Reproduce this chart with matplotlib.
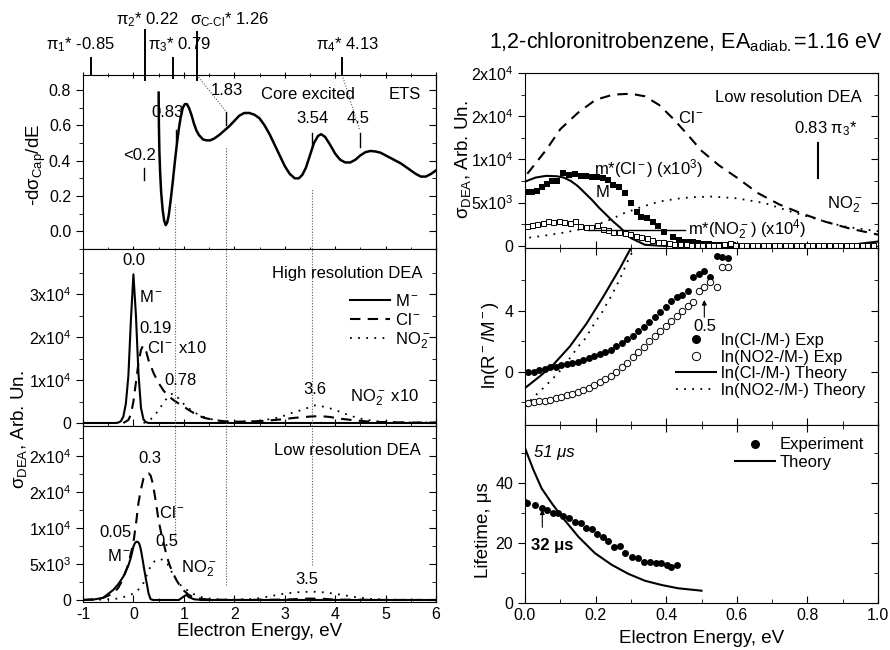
import numpy as np
import matplotlib.pyplot as plt
from matplotlib.ticker import FixedLocator, MultipleLocator, FixedFormatter, NullFormatter

plt.rcParams['font.family'] = 'Liberation Sans'
plt.rcParams['mathtext.fontset'] = 'custom'
plt.rcParams['mathtext.rm'] = 'Liberation Sans'
plt.rcParams['mathtext.it'] = 'Liberation Sans:italic'
plt.rcParams['mathtext.bf'] = 'Liberation Sans:bold'
plt.rcParams['axes.unicode_minus'] = False
plt.rcParams['font.size'] = 12
plt.rcParams['xtick.labelsize'] = 11.5
plt.rcParams['ytick.labelsize'] = 11.5

# ETS derivative spectrum
ets_e = [0.50, 0.505, 0.515, 0.53, 0.55, 0.58, 0.61, 0.64, 0.67, 0.70, 0.74, 0.78, 0.82, 0.86, 0.90,
         0.94, 0.98, 1.02, 1.06, 1.10, 1.15, 1.20, 1.25, 1.30, 1.38, 1.45, 1.52, 1.60, 1.70, 1.80,
         1.90, 2.00, 2.10, 2.20, 2.30, 2.40, 2.50, 2.60, 2.70, 2.80, 2.90, 3.00, 3.10, 3.20, 3.28,
         3.35, 3.42, 3.50, 3.58, 3.66, 3.72, 3.80, 3.90, 4.00, 4.10, 4.20, 4.30, 4.40, 4.50, 4.60,
         4.70, 4.80, 4.90, 5.00, 5.10, 5.20, 5.30, 5.40, 5.50, 5.60, 5.70, 5.80, 5.90, 6.00]
ets_y = [0.785, 0.60, 0.45, 0.33, 0.22, 0.12, 0.06, 0.035, 0.05, 0.09, 0.18, 0.28, 0.39, 0.49, 0.58,
         0.65, 0.70, 0.72, 0.72, 0.70, 0.66, 0.61, 0.57, 0.545, 0.52, 0.515, 0.515, 0.525, 0.545, 0.57,
         0.595, 0.625, 0.655, 0.67, 0.67, 0.66, 0.64, 0.60, 0.55, 0.49, 0.43, 0.37, 0.325, 0.30, 0.30,
         0.32, 0.36, 0.43, 0.50, 0.54, 0.55, 0.535, 0.49, 0.44, 0.405, 0.39, 0.39, 0.405, 0.43, 0.448,
         0.455, 0.452, 0.445, 0.43, 0.415, 0.40, 0.385, 0.365, 0.345, 0.325, 0.31, 0.31, 0.325, 0.345]

# high resolution DEA
hr_m_e = [-1.0, -0.35, -0.3, -0.25, -0.2, -0.15, -0.1, -0.05, 0.0, 0.05, 0.1, 0.15, 0.2, 0.25, 0.3, 6.0]
hr_m_y = [0, 0, 100, 400, 1500, 4500, 11000, 24000, 34600, 25000, 11500, 3500, 800, 200, 0, 0]
hr_cl_e = [-0.2, -0.1, -0.05, 0.0, 0.05, 0.1, 0.15, 0.19, 0.25, 0.3, 0.4, 0.5, 0.6, 0.7, 0.8, 0.9, 1.0,
           1.1, 1.2, 1.3, 1.4, 1.6, 1.8, 2.0, 2.3, 2.6, 2.9, 3.2, 3.5, 3.7, 3.9, 4.1, 4.4, 4.7, 5.0, 5.5, 6.0]
hr_cl_y = [0, 700, 2000, 5000, 9500, 14000, 17000, 18000, 16800, 14600, 11600, 9300, 7500, 6200, 5300,
           4500, 3800, 3000, 2300, 1700, 1200, 700, 400, 300, 350, 500, 800, 1200, 1500, 1600, 1400,
           1000, 600, 300, 200, 100, 100]
hr_no2_e = [0.2, 0.3, 0.4, 0.5, 0.6, 0.7, 0.78, 0.9, 1.0, 1.1, 1.2, 1.35, 1.5, 1.7, 2.0, 2.3, 2.6, 2.9,
            3.1, 3.3, 3.5, 3.6, 3.7, 3.9, 4.1, 4.3, 4.5, 4.8, 5.2, 5.6, 6.0]
hr_no2_y = [0, 400, 1500, 3000, 4800, 6300, 6900, 5700, 4400, 3400, 2500, 1600, 1000, 500, 300, 350,
            700, 1300, 2200, 2900, 3700, 4100, 4000, 3400, 2600, 1700, 1000, 400, 200, 100, 100]

# low resolution DEA
lr_m_e = [-1.0, -0.8, -0.6, -0.4, -0.3, -0.2, -0.1, -0.05, 0.0, 0.03, 0.06, 0.09, 0.11, 0.13, 0.15,
          0.17, 0.19, 0.21, 0.23, 0.25, 0.27, 0.30, 0.34, 0.39, 0.5, 0.9, 1.0, 1.05, 1.1, 1.2, 1.35, 1.5, 6.0]
lr_m_y = [0, 50, 300, 1400, 2200, 3250, 4800, 5900, 7430, 7900, 8100, 8050, 7900, 7500, 6900,
          6100, 5300, 4400, 3600, 2800, 2100, 900, 120, 0, 0, 0, 500, 700, 400, 100, 0, 0, 0]
lr_cl_e = [-1.0, -0.8, -0.6, -0.4, -0.3, -0.2, -0.1, 0.0, 0.06, 0.1, 0.15, 0.2, 0.25, 0.3, 0.34, 0.38,
           0.42, 0.46, 0.5, 0.55, 0.6, 0.66, 0.72, 0.78, 0.85, 0.92, 1.0, 1.1, 1.2, 1.35, 1.5, 2.0,
           3.0, 3.3, 3.5, 3.8, 4.0, 5.0, 6.0]
lr_cl_y = [0, 100, 300, 900, 1700, 3000, 5000, 8000, 11100, 13500, 15400, 16900, 17500, 17600, 17300,
           16300, 14700, 12900, 11000, 9300, 7900, 6100, 4800, 3800, 2800, 2000, 1300, 700, 350, 150,
           60, 0, 50, 150, 200, 150, 50, 0, 0]
lr_no2_e = [-1.0, -0.6, -0.3, -0.1, 0.0, 0.05, 0.1, 0.15, 0.19, 0.24, 0.28, 0.33, 0.38, 0.43, 0.47,
            0.53, 0.6, 0.68, 0.75, 0.83, 0.9, 1.0, 1.1, 1.2, 1.35, 1.5, 1.7, 2.0, 2.4, 2.7, 3.0, 3.3,
            3.55, 3.8, 4.1, 4.4, 4.7, 5.0, 6.0]
lr_no2_y = [0, 50, 200, 600, 890, 1150, 1460, 1850, 2230, 3000, 3770, 4500, 5120, 5450, 5620, 5700,
            5500, 4940, 4000, 3040, 2270, 1690, 1200, 800, 400, 200, 80, 50, 150, 500, 900, 1100,
            1160, 1050, 750, 400, 150, 50, 0]

# metastable decay signals (scaled)
mcl_e = [0.005, 0.019, 0.033, 0.047, 0.061, 0.076, 0.092, 0.109, 0.126, 0.142, 0.158, 0.173, 0.189,
         0.205, 0.22, 0.236, 0.25, 0.267, 0.283, 0.299, 0.316, 0.33, 0.346, 0.362, 0.378, 0.394, 0.42,
         0.435, 0.449, 0.463, 0.477, 0.491, 0.505, 0.52, 0.534, 0.548, 0.562, 0.577, 0.59]
mcl_y = [6270, 6270, 6390, 6770, 7160, 7540, 7510, 8470, 8200, 8310, 8080, 8080, 8000, 7930, 7810,
         7620, 7040, 6770, 6160, 4930, 3960, 3390, 3200, 2810, 2310, 1650, 1000, 620, 500, 390, 390,
         310, 230, 230, 150, 150, 120, 120, 120]
mno2_e = [0.005, 0.02, 0.035, 0.05, 0.066, 0.08, 0.096, 0.11, 0.127, 0.142, 0.157, 0.172, 0.188, 0.204,
          0.22, 0.235, 0.25, 0.266, 0.282, 0.298, 0.314, 0.33, 0.345, 0.36, 0.376, 0.392, 0.408, 0.423,
          0.439, 0.455, 0.47, 0.486, 0.502, 0.517, 0.533, 0.548, 0.564, 0.58, 0.595, 0.611, 0.627,
          0.642, 0.658, 0.674, 0.689, 0.705, 0.72, 0.736, 0.752, 0.767, 0.783, 0.799, 0.814, 0.83,
          0.845, 0.861, 0.877, 0.892, 0.908, 0.924, 0.939, 0.955, 0.97, 0.986]
mno2_y = [2310, 2420, 2540, 2690, 2880, 2810, 2920, 2810, 2690, 2920, 2300, 2200, 2200, 2420, 2000,
          1850, 1650, 1580, 1460, 1350, 1190, 1080, 890, 700, 500, 390, 310, 250, 200, 170, 150, 150,
          130, 120, 120, 130, 200, 300, 150, 120, 120, 110, 120, 120, 110, 120, 120, 110, 120, 120,
          110, 120, 120, 110, 120, 120, 110, 120, 120, 110, 120, 120, 110, 120]

# ln of branching ratios
ln_e = [0.009, 0.025, 0.040, 0.056, 0.071, 0.087, 0.103, 0.118, 0.134, 0.149, 0.165, 0.181, 0.196,
        0.212, 0.227, 0.243, 0.259, 0.274, 0.290, 0.305, 0.321, 0.337, 0.352, 0.368, 0.383, 0.399,
        0.415, 0.430, 0.446, 0.461, 0.477, 0.493, 0.508, 0.524, 0.543, 0.557, 0.574]
ln_cl = [0.0, 0.0, 0.11, 0.15, 0.33, 0.33, 0.42, 0.48, 0.55, 0.66, 0.77, 0.87, 1.03, 1.14, 1.29, 1.40,
         1.68, 1.90, 2.16, 2.34, 2.67, 2.95, 3.26, 3.61, 3.91, 4.26, 4.63, 4.90, 5.07, 5.30, 6.21, 6.39,
         6.60, 6.23, 7.59, 7.54, 7.48]
ln_no2 = [-2.05, -2.0, -1.95, -1.9, -1.85, -1.75, -1.65, -1.55, -1.45, -1.35, -1.2, -1.05, -0.9, -0.7,
          -0.5, -0.25, 0.0, 0.3, 0.6, 0.95, 1.3, 1.65, 2.0, 2.35, 2.7, 3.0, 3.35, 3.65, 4.0, 4.35, 4.6,
          5.3, 5.55, 5.9, 5.6, 6.9, 6.9]
lnth_e = [0.0, 0.042, 0.08, 0.127, 0.175, 0.222, 0.269, 0.297, 0.31]
lnth_cl = [-1.07, -0.3, 0.46, 1.66, 3.19, 4.94, 6.8, 8.0, 8.5]
lnth_no2_e = [0.0, 0.024, 0.047, 0.071, 0.094, 0.113, 0.132, 0.151, 0.17, 0.184, 0.2, 0.217, 0.231,
              0.245, 0.258, 0.269, 0.28, 0.29, 0.302, 0.31]
lnth_no2 = [-2.3, -1.68, -1.18, -0.63, -0.09, 0.46, 1.05, 1.66, 2.16, 2.69, 3.3, 3.85, 4.44, 5.0,
            5.6, 6.1, 6.69, 7.23, 7.78, 8.2]

# lifetimes
lt_e = [0.0, 0.005, 0.028, 0.047, 0.063, 0.078, 0.094, 0.109, 0.126, 0.142, 0.158, 0.173, 0.189,
        0.205, 0.222, 0.236, 0.253, 0.269, 0.283, 0.302, 0.319, 0.338, 0.354, 0.37, 0.385, 0.401,
        0.415, 0.43]
lt_exp = [33.8, 33.2, 32.7, 31.6, 31.0, 29.9, 29.9, 29.0, 28.2, 27.1, 26.8, 25.1, 24.6, 22.9, 22.1,
          20.7, 18.8, 19.0, 16.8, 15.2, 15.1, 13.7, 13.8, 13.4, 13.2, 12.7, 12.1, 12.7]
lt_th_e = [0.0, 0.024, 0.047, 0.076, 0.104, 0.151, 0.198, 0.246, 0.293, 0.34, 0.387, 0.434, 0.5]
lt_th = [51.6, 44.3, 38.2, 33.2, 28.8, 22.1, 16.6, 12.7, 9.7, 7.4, 6.0, 4.9, 4.1]

dash = (0, (5, 3.5))
dots = (0, (1, 3.5))
vdot = dict(color='0.35', lw=0.8, linestyle=(0, (1, 1.5)))
LBL = 13.5

fig = plt.figure(figsize=(8.9, 6.5), dpi=100)
W, H = 890.0, 650.0


def add_ax(x0, x1, y0, y1):
    return fig.add_axes([x0 / W, 1 - y1 / H, (x1 - x0) / W, (y1 - y0) / H])


def ticks(ax, major, minor, labels=None, xshow=False, xmaj=1, xmin=0.5):
    ax.yaxis.set_major_locator(FixedLocator(major))
    ax.yaxis.set_minor_locator(FixedLocator(minor))
    if labels is not None:
        ax.yaxis.set_major_formatter(FixedFormatter(labels))
    ax.xaxis.set_major_locator(MultipleLocator(xmaj))
    ax.xaxis.set_minor_locator(MultipleLocator(xmin))
    ax.tick_params(axis='y', which='both', direction='out', right=False)
    ax.tick_params(axis='y', which='major', length=5)
    ax.tick_params(axis='y', which='minor', length=3)
    ax.tick_params(axis='x', which='both', direction='in', top=False, labelbottom=xshow)
    ax.tick_params(axis='x', which='major', length=5)
    ax.tick_params(axis='x', which='minor', length=3)
    sec = ax.secondary_yaxis('right')
    sec.yaxis.set_major_locator(FixedLocator(major))
    sec.yaxis.set_minor_locator(FixedLocator(minor))
    sec.yaxis.set_major_formatter(NullFormatter())
    sec.tick_params(which='both', direction='in')
    sec.tick_params(which='major', length=5)
    sec.tick_params(which='minor', length=3)


# ---------------- left column ----------------
axA = add_ax(83, 436, 75, 249)
axB = add_ax(83, 436, 249, 426)
axC = add_ax(83, 436, 426, 602)

axA.plot(ets_e, ets_y, color='black', lw=1.8)
axA.set_xlim(-1, 6)
axA.set_ylim(-0.1, 0.885)
ticks(axA, [0, 0.2, 0.4, 0.6, 0.8], [-0.1, 0.1, 0.3, 0.5, 0.7], ['0.0', '0.2', '0.4', '0.6', '0.8'])
axA.tick_params(axis='x', which='both', top=True, labeltop=False)
axA.xaxis.set_tick_params(which='both', direction='inout')

# orbital markers above the frame
orb_e = [-0.85, 0.22, 0.79, 1.26, 4.13]
orb_top = [0.981, 1.14, 0.981, 1.13, 0.981]
orb_bot = [0.885, 0.857, 0.868, 0.857, 0.885]
for e, t, b in zip(orb_e, orb_top, orb_bot):
    axA.plot([e, e], [b, t], color='black', lw=1.4, clip_on=False)
axA.text(-1.06, 1.055, 'π$_1$* -0.85', ha='center', va='center')
axA.text(0.29, 1.197, 'π$_2$* 0.22', ha='center', va='center')
axA.text(0.92, 1.055, 'π$_3$* 0.79', ha='center', va='center')
axA.text(1.91, 1.197, 'σ$_{\\mathrm{C\u2011Cl}}$* 1.26', ha='center', va='center')
axA.text(4.25, 1.055, 'π$_4$* 4.13', ha='center', va='center')

axA.plot([1.26, 1.84], [0.885, 0.677], color='0.35', lw=0.8, linestyle=(0, (1, 1.5)), clip_on=False)
axA.plot([4.14, 4.49], [0.885, 0.57], color='0.35', lw=0.8, linestyle=(0, (1, 1.5)), clip_on=False)
for e, y0, y1 in [(0.204, 0.29, 0.361), (0.84, 0.507, 0.573), (1.84, 0.60, 0.677),
                  (3.545, 0.479, 0.554), (4.5, 0.48, 0.554)]:
    axA.plot([e, e], [y0, y1], color='black', lw=1.0)
axA.text(0.13, 0.431, '<0.2', ha='center', va='center')
axA.text(0.666, 0.675, '0.83', ha='center', va='center')
axA.text(1.855, 0.80, '1.83', ha='center', va='center')
axA.text(3.46, 0.772, 'Core excited', ha='center', va='center')
axA.text(5.385, 0.772, 'ETS', ha='center', va='center')
axA.text(3.54, 0.636, '3.54', ha='center', va='center')
axA.text(4.45, 0.64, '4.5', ha='center', va='center')
axA.plot([0.83, 0.83], [-0.1, 0.157], **vdot)
axA.plot([1.83, 1.83], [-0.1, 0.479], **vdot)
axA.plot([3.54, 3.54], [-0.1, 0.242], **vdot)

axB.plot(hr_m_e, hr_m_y, color='black', lw=1.5, label='M$^-$')
axB.plot(hr_cl_e, hr_cl_y, color='black', lw=1.5, linestyle=dash, label='Cl$^-$')
axB.plot(hr_no2_e, hr_no2_y, color='black', lw=1.3, linestyle=dots, label='NO$_2^-$')
axB.set_xlim(-1, 6)
axB.set_ylim(-700, 40500)
ticks(axB, [0, 10000, 20000, 30000], [5000, 15000, 25000, 35000],
      ['0', '1x10$^4$', '2x10$^4$', '3x10$^4$'])
for e in [0.83, 1.83, 3.54]:
    axB.axvline(e, **vdot)
axB.legend(loc='upper right', bbox_to_anchor=(0.985, 0.75), frameon=False, handlelength=2.4,
           handletextpad=0.3, labelspacing=0.15, borderpad=0, borderaxespad=0)
axB.text(0.01, 37900, '0.0', ha='center', va='center')
axB.text(0.35, 29300, 'M$^-$', ha='center', va='center')
axB.text(0.43, 22100, '0.19', ha='center', va='center')
axB.text(0.86, 17400, 'Cl$^-$ x10', ha='center', va='center')
axB.text(0.94, 10000, '0.78', ha='center', va='center')
axB.text(3.6, 7700, '3.6', ha='center', va='center')
axB.text(4.97, 5800, 'NO$_2^-$ x10', ha='center', va='center')
axB.text(4.25, 34900, 'High resolution DEA', ha='center', va='center')

axC.plot(lr_m_e, lr_m_y, color='black', lw=1.5)
axC.plot(lr_cl_e, lr_cl_y, color='black', lw=1.5, linestyle=dash)
axC.plot(lr_no2_e, lr_no2_y, color='black', lw=1.3, linestyle=dots)
axC.set_xlim(-1, 6)
axC.set_ylim(-280, 24170)
ticks(axC, [0, 5000, 10000, 15000, 20000], [2500, 7500, 12500, 17500, 22500],
      ['0', '5x10$^3$', '1x10$^4$', '2x10$^4$', '2x10$^4$'], xshow=True)
axC.plot([0.83, 0.83], [8500, 24170], **vdot)
axC.plot([1.83, 1.83], [2090, 24170], **vdot)
axC.plot([3.54, 3.54], [4880, 24170], **vdot)
axC.text(4.24, 20800, 'Low resolution DEA', ha='center', va='center')
axC.text(0.33, 19600, '0.3', ha='center', va='center')
axC.text(0.76, 12100, 'Cl$^-$', ha='center', va='center')
axC.text(-0.35, 9400, '0.05', ha='center', va='center')
axC.text(-0.29, 6100, 'M$^-$', ha='center', va='center')
axC.text(0.67, 8100, '0.5', ha='center', va='center')
axC.text(1.3, 4400, 'NO$_2^-$', ha='center', va='center')
axC.text(3.44, 2800, '3.5', ha='center', va='center')
axC.set_xlabel('Electron Energy, eV', fontsize=LBL, labelpad=1)

fig.text(36 / W, 1 - 165 / H, '-dσ$_{\\mathrm{Cap}}$/dE', rotation=90, ha='center', va='center', fontsize=LBL)
fig.text(19 / W, 1 - 430 / H, 'σ$_{\\mathrm{DEA}}$, Arb. Un.', rotation=90, ha='center', va='center', fontsize=LBL)

# ---------------- right column ----------------
axD = add_ax(525, 878, 73, 248)
axE = add_ax(525, 878, 248, 425)
axF = add_ax(525, 878, 425, 603)

axD.plot(lr_cl_e, lr_cl_y, color='black', lw=1.5, linestyle=dash)
axD.plot(lr_no2_e, lr_no2_y, color='black', lw=1.3, linestyle=dots)
axD.plot(lr_m_e, lr_m_y, color='black', lw=1.5)
axD.plot(mcl_e, mcl_y, 's', color='black', ms=3.8, mew=0)
axD.plot(mno2_e, mno2_y, 's', mfc='white', mec='black', ms=3.6, mew=0.7)
axD.set_xlim(0, 1)
axD.set_ylim(-250, 20000)
ticks(axD, [0, 5000, 10000, 15000, 20000], [2500, 7500, 12500, 17500],
      ['0', '5x10$^3$', '1x10$^4$', '2x10$^4$', '2x10$^4$'], xmaj=0.2, xmin=0.1)
axD.plot([0.83, 0.83], [7850, 11900], color='black', lw=1.5)
axD.plot([0.179, 0.453], [1850, 1850], color='black', lw=1.0)
axD.text(0.745, 17200, 'Low resolution DEA', ha='center', va='center')
axD.text(0.433, 14800, 'Cl$^-$', ha='left', va='center')
axD.text(0.853, 13600, '0.83 π$_3$*', ha='center', va='center')
axD.text(0.35, 9000, 'm*(Cl$^-$) (x10$^3$)', ha='center', va='center')
axD.text(0.233, 6200, 'M$^-$', ha='center', va='center')
axD.text(0.906, 4700, 'NO$_2^-$', ha='center', va='center')
axD.text(0.462, 1850, 'm*(NO$_2^-$) (x10$^4$)', ha='left', va='center')

axE.plot(ln_e, ln_cl, 'o', color='black', ms=5, mew=0, label='ln(Cl-/M-) Exp')
axE.plot(ln_e, ln_no2, 'o', mfc='white', mec='black', ms=4.6, mew=0.7, label='ln(NO2-/M-) Exp')
axE.plot(lnth_e, lnth_cl, color='black', lw=1.5, label='ln(Cl-/M-) Theory')
axE.plot(lnth_no2_e, lnth_no2, color='black', lw=1.3, linestyle=dots, label='ln(NO2-/M-) Theory')
axE.set_xlim(0, 1)
axE.set_ylim(-3.5, 8.13)
ticks(axE, [0, 4], [-2, 2, 6], ['0', '4'], xmaj=0.2, xmin=0.1)
axE.tick_params(axis='x', which='both', top=True)
axE.annotate('', xy=(0.508, 4.9), xytext=(0.508, 3.4),
             arrowprops=dict(arrowstyle='-|>', color='black', lw=0.8, mutation_scale=7))
axE.text(0.51, 2.95, '0.5', ha='center', va='center')
axE.legend(loc='upper right', bbox_to_anchor=(0.965, 0.52), frameon=False, handlelength=2.4,
           handletextpad=0.3, labelspacing=0.1, borderpad=0, borderaxespad=0, markerscale=1.3)

axF.plot(lt_e, lt_exp, 'o', color='black', ms=5, mew=0, label='Experiment')
axF.plot(lt_th_e, lt_th, color='black', lw=1.5, label='Theory')
axF.set_xlim(0, 1)
axF.set_ylim(0, 59.3)
ticks(axF, [0, 20, 40], [10, 30, 50], ['0', '20', '40'], xshow=True, xmaj=0.2, xmin=0.1)
axF.tick_params(axis='x', which='both', top=True)
axF.xaxis.set_major_formatter(FixedFormatter(['0.0', '0.2', '0.4', '0.6', '0.8', '1.0']))
axF.xaxis.set_major_locator(FixedLocator([0, 0.2, 0.4, 0.6, 0.8, 1.0]))
axF.annotate('', xy=(0.049, 32.1), xytext=(0.049, 24.3),
             arrowprops=dict(arrowstyle='-|>', color='black', lw=0.8, mutation_scale=7))
axF.text(0.082, 50.3, '51 μs', ha='center', va='center', style='italic')
axF.text(0.076, 19.3, '32 μs', ha='center', va='center', fontweight='bold')
axF.legend(loc='upper right', bbox_to_anchor=(0.96, 0.93), frameon=False, handlelength=2.4,
           handletextpad=0.3, labelspacing=0.15, borderpad=0, borderaxespad=0, markerscale=1.3)
axF.set_xlabel('Electron Energy, eV', fontsize=LBL, labelpad=5)

fig.text(463 / W, 1 - 160 / H, 'σ$_{\\mathrm{DEA}}$, Arb. Un.', rotation=90, ha='center', va='center', fontsize=LBL)
fig.text(491 / W, 1 - 345 / H, 'ln(R$^-$/M$^-$)', rotation=90, ha='center', va='center', fontsize=LBL)
fig.text(484 / W, 1 - 530 / H, 'Lifetime, μs', rotation=90, ha='center', va='center', fontsize=LBL)
fig.text(686 / W, 1 - 42 / H, '1,2-chloronitrobenzene, EA$_{\\mathrm{adiab.}}$=1.16 eV',
         ha='center', va='center', fontsize=15.5)

fig.savefig('out.png', dpi=100)
